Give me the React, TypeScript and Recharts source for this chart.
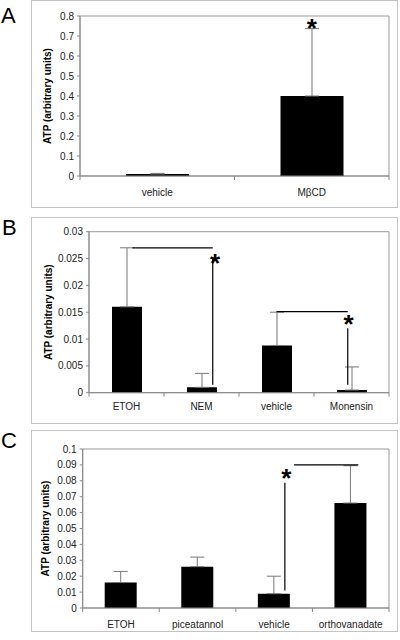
import React from 'react';
import { BarChart, Bar, XAxis, YAxis, ErrorBar, ReferenceLine, ReferenceArea, ReferenceDot } from 'recharts';

// ---------- data ----------
const aCats = ['vehicle', 'MβCD'];
const aVals = [0.01, 0.4];
const aErrTop = [0.013, 0.737];
const aTicks = [0, 0.1, 0.2, 0.3, 0.4, 0.5, 0.6, 0.7, 0.8];
const aSegments: number[][][] = [];
const aStars = [[1.5, 0.771]];

const bCats = ['ETOH', 'NEM', 'vehicle', 'Monensin'];
const bVals = [0.016, 0.001, 0.0088, 0.0005];
const bErrTop = [0.027, 0.0036, 0.015, 0.0048];
const bTicks = [0, 0.005, 0.01, 0.015, 0.02, 0.025, 0.03];
const bSegments = [
  [[0.58, 0.027], [1.65, 0.027]],
  [[1.65, 0.0015], [1.65, 0.025]],
  [[2.5, 0.0151], [3.45, 0.0151]],
  [[3.45, 0.0015], [3.45, 0.012]],
];
const bStars = [[1.68, 0.0253], [3.46, 0.0139]];

const cCats = ['ETOH', 'piceatannol', 'vehicle', 'orthovanadate'];
const cVals = [0.016, 0.026, 0.009, 0.066];
const cErrTop = [0.023, 0.032, 0.02, 0.0895];
const cTicks = [0, 0.01, 0.02, 0.03, 0.04, 0.05, 0.06, 0.07, 0.08, 0.09, 0.1];
const cSegments = [
  [[2.64, 0.011], [2.64, 0.0787]],
  [[2.76, 0.09], [3.6, 0.09]],
];
const cStars = [[2.66, 0.0856]];

const FONT = '"Liberation Sans", Arial, sans-serif';

type PanelProps = {
  cats: string[];
  vals: number[];
  errTop: number[];
  yTicks: number[];
  segments: number[][][];
  stars: number[][];
  top: number;
  height: number;
  plotTop: number;
  plotBottom: number;
  plotLeft: number;
  plotRight: number;
  barSize: number;
  labelX: number;
  xLabelDy: number;
  yTickMargin: number;
};

function Panel(p: PanelProps) {
  const n = p.cats.length;
  const data = p.cats.map((c, i) => ({
    name: c,
    pos: i + 0.5,
    value: p.vals[i],
    err: [0, p.errTop[i] - p.vals[i]],
  }));
  const numTicks: number[] = [];
  for (let i = 0; i <= n * 2; i++) numTicks.push(i / 2);
  const yMax = p.yTicks[p.yTicks.length - 1];
  const xAxisH = 30;
  const margin = {
    top: p.plotTop,
    right: 400 - p.plotRight,
    bottom: p.height - p.plotBottom - xAxisH,
    left: 0,
  };
  const renderXTick = (props: any) => {
    const { x, y, payload } = props;
    const v = payload.value;
    if (Math.abs(v - Math.round(v)) < 1e-6) {
      return <line x1={x} x2={x} y1={y} y2={y + 4} stroke="#888" strokeWidth={1} />;
    }
    const idx = Math.floor(v);
    return (
      <text x={x} y={y + p.xLabelDy} textAnchor="middle" fontSize={10} fill="#222" fontFamily={FONT}>
        {p.cats[idx]}
      </text>
    );
  };
  const renderStar = (props: any) => (
    <text x={props.cx} y={props.cy + 15} textAnchor="middle" fontSize={26} fontWeight="bold" fill="#000" fontFamily={FONT}>
      *
    </text>
  );
  return (
    <div style={{ position: 'absolute', left: 0, top: p.top, width: 400, height: p.height }}>
      <BarChart width={400} height={p.height} data={data} margin={margin}>
        <XAxis xAxisId="cat" dataKey="name" type="category" hide height={0} />
        <XAxis
          xAxisId="num"
          dataKey="pos"
          type="number"
          domain={[0, n]}
          ticks={numTicks}
          interval={0}
          allowDataOverflow
          height={xAxisH}
          tickLine={false}
          tickSize={0}
          tickMargin={0}
          axisLine={{ stroke: '#888' }}
          tick={renderXTick}
        />
        <YAxis
          yAxisId="y"
          width={p.plotLeft}
          domain={[0, yMax]}
          ticks={p.yTicks}
          interval={0}
          allowDataOverflow
          tickSize={3}
          tickMargin={p.yTickMargin}
          tickLine={{ stroke: '#888' }}
          axisLine={{ stroke: '#888' }}
          tick={{ fontSize: 10, fill: '#222', fontFamily: FONT }}
          tickFormatter={(v: number) => String(v)}
          label={{
            value: 'ATP (arbitrary units)',
            angle: -90,
            position: 'insideLeft',
            offset: p.labelX,
            style: { textAnchor: 'middle', fontWeight: 'bold', fontSize: 10, fill: '#000', fontFamily: FONT },
          }}
        />
        <ReferenceArea
          xAxisId="num"
          yAxisId="y"
          x1={0}
          x2={n}
          y1={0}
          y2={yMax}
          ifOverflow="visible"
          fill="none"
          fillOpacity={0}
          stroke="#999"
          strokeWidth={1}
        />
        <Bar xAxisId="cat" yAxisId="y" dataKey="value" fill="#000" barSize={p.barSize} isAnimationActive={false}>
          <ErrorBar dataKey="err" direction="y" width={7} stroke="#777" strokeWidth={1} />
        </Bar>
        {p.segments.map((s, i) => (
          <ReferenceLine
            key={'s' + i}
            xAxisId="num"
            yAxisId="y"
            segment={[{ x: s[0][0], y: s[0][1] }, { x: s[1][0], y: s[1][1] }]}
            stroke="#000"
            strokeWidth={1.2}
          />
        ))}
        {p.stars.map((s, i) => (
          <ReferenceDot key={'d' + i} xAxisId="num" yAxisId="y" x={s[0]} y={s[1]} r={0} shape={renderStar} />
        ))}
      </BarChart>
    </div>
  );
}

export default function App() {
  return (
    <div style={{ position: 'absolute', left: 0, top: 0, width: 400, height: 640, background: '#fff', fontFamily: FONT }}>
      <div style={{ position: 'absolute', left: 31, top: 0, width: 367, height: 208, border: '1px solid #c4c4c4', boxSizing: 'border-box' }} />
      <div style={{ position: 'absolute', left: 31, top: 217, width: 367, height: 207, border: '1px solid #c4c4c4', boxSizing: 'border-box' }} />
      <div style={{ position: 'absolute', left: 31, top: 430, width: 367, height: 202, border: '1px solid #c4c4c4', boxSizing: 'border-box' }} />
      <svg style={{ position: 'absolute', left: 0, top: 0 }} width={400} height={640}>
        <text x={1} y={22.7} fontSize={22} fontFamily={FONT} fill="#000">A</text>
        <text x={2} y={235} fontSize={22} fontFamily={FONT} fill="#000">B</text>
        <text x={1} y={448} fontSize={22} fontFamily={FONT} fill="#000">C</text>
      </svg>
      <Panel
        cats={aCats} vals={aVals} errTop={aErrTop} yTicks={aTicks} segments={aSegments} stars={aStars}
        top={0} height={210} plotTop={16} plotBottom={176} plotLeft={80} plotRight={389}
        barSize={63} labelX={47} xLabelDy={20} yTickMargin={3}
      />
      <Panel
        cats={bCats} vals={bVals} errTop={bErrTop} yTicks={bTicks} segments={bSegments} stars={bStars}
        top={210} height={214} plotTop={21.7} plotBottom={182.7} plotLeft={89} plotRight={389}
        barSize={30} labelX={48} xLabelDy={17.6} yTickMargin={3}
      />
      <Panel
        cats={cCats} vals={cVals} errTop={cErrTop} yTicks={cTicks} segments={cSegments} stars={cStars}
        top={424} height={216} plotTop={25} plotBottom={184} plotLeft={82.7} plotRight={389}
        barSize={32} labelX={45} xLabelDy={19.6} yTickMargin={3}
      />
    </div>
  );
}
